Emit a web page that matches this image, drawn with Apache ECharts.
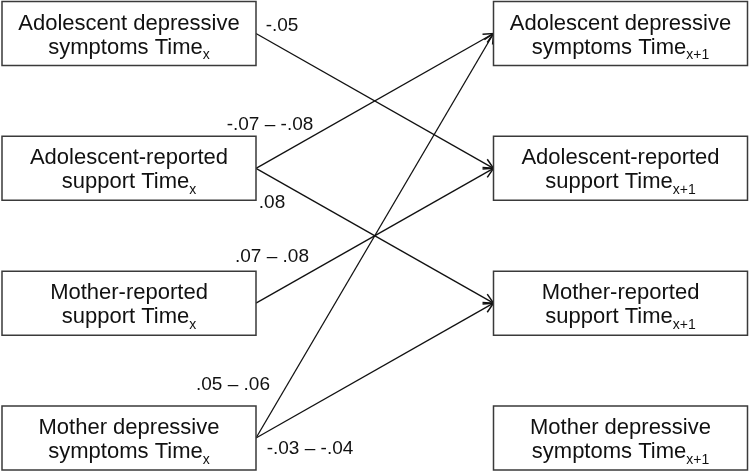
<!DOCTYPE html>
<html>
<head>
<meta charset="utf-8">
<script src="https://cdn.jsdelivr.net/npm/echarts@6/dist/echarts.min.js"></script>
<style>
  html, body { margin: 0; padding: 0; background: #fff; }
  #chart { width: 750px; height: 473px; }
</style>
</head>
<body>
<div id="chart"></div>
<script>
  // variables (same rows at Time x and Time x+1)
  const firstLines = ['Adolescent depressive', 'Adolescent-reported', 'Mother-reported', 'Mother depressive'];
  const secondLines = ['symptoms Time', 'support Time', 'support Time', 'symptoms Time'];
  const timeSubscripts = ['x', 'x+1'];

  // cross-lagged paths: row at Time x -> row at Time x+1
  const pathFrom = [0, 1, 1, 2, 3, 3];
  const pathTo = [1, 0, 2, 1, 0, 2];
  const pathLabels = ['-.05', '-.07 – -.08', '.08', '.07 – .08', '.05 – .06', '-.03 – -.04'];

  // layout
  const BOX_W = 254;
  const BOX_H = 64;
  const MAIN_FONT = '22px "Liberation Sans", Arial, sans-serif';
  const SUB_FONT = '14px "Liberation Sans", Arial, sans-serif';
  const LABEL_FONT = '19px "Liberation Sans", Arial, sans-serif';
  const labelOffsets = [[26, -8], [14, -44], [16, 34], [16, -46], [-23, -53], [54, 11]];

  const measureCtx = document.createElement('canvas').getContext('2d');
  const textWidth = (str, font) => {
    measureCtx.font = font;
    return measureCtx.measureText(str).width;
  };

  const boxData = [];
  [0, 1].forEach((col) => {
    firstLines.forEach((_, row) => boxData.push([col, row]));
  });
  const pathData = pathFrom.map((f, i) => [0, f, 1, pathTo[i]]);

  const renderBox = (params, api) => {
    const col = api.value(0);
    const row = api.value(1);
    const c = api.coord([col, row]);
    const main = secondLines[row];
    const sub = timeSubscripts[col];
    const wMain = textWidth(main, MAIN_FONT);
    const wSub = textWidth(sub, SUB_FONT);
    const start = c[0] - (wMain + wSub) / 2;
    return {
      type: 'group',
      children: [
        {
          type: 'rect',
          shape: { x: c[0] - BOX_W / 2, y: c[1] - BOX_H / 2, width: BOX_W, height: BOX_H },
          style: { fill: '#fff', stroke: '#3a3a3a', lineWidth: 1.5 },
        },
        {
          type: 'text', x: c[0], y: c[1] - 10,
          style: { text: firstLines[row], font: MAIN_FONT, fill: '#111', align: 'center', verticalAlign: 'middle' },
        },
        {
          type: 'text', x: start, y: c[1] + 14,
          style: { text: main, font: MAIN_FONT, fill: '#111', align: 'left', verticalAlign: 'middle' },
        },
        {
          type: 'text', x: start + wMain, y: c[1] + 22,
          style: { text: sub, font: SUB_FONT, fill: '#111', align: 'left', verticalAlign: 'middle' },
        },
      ],
    };
  };

  const renderPath = (params, api) => {
    const s = api.coord([api.value(0), api.value(1)]);
    const t = api.coord([api.value(2), api.value(3)]);
    const sx = s[0] + BOX_W / 2, sy = s[1];
    const tx = t[0] - BOX_W / 2, ty = t[1];
    const ang = Math.atan2(ty - sy, tx - sx);
    const L = 11, a = 0.45;
    const p1 = [tx - L * Math.cos(ang - a), ty - L * Math.sin(ang - a)];
    const p2 = [tx - L * Math.cos(ang + a), ty - L * Math.sin(ang + a)];
    const off = labelOffsets[params.dataIndex];
    return {
      type: 'group',
      children: [
        {
          type: 'line',
          shape: { x1: sx, y1: sy, x2: tx, y2: ty },
          style: { stroke: '#111', lineWidth: 1.3 },
        },
        {
          type: 'polyline',
          shape: { points: [p1, [tx, ty], p2] },
          style: { stroke: '#111', lineWidth: 1.5, fill: null },
        },
        {
          type: 'text', x: sx + off[0], y: sy + off[1],
          style: { text: pathLabels[params.dataIndex], font: LABEL_FONT, fill: '#111', align: 'center', verticalAlign: 'middle' },
        },
      ],
    };
  };

  const chart = echarts.init(document.getElementById('chart'));
  chart.setOption({
    animation: false,
    grid: { left: 129, right: 129.5, top: 33.5, bottom: 35 },
    xAxis: { type: 'value', min: 0, max: 1, show: false },
    yAxis: { type: 'value', min: 0, max: 3, inverse: true, show: false },
    series: [
      {
        type: 'custom',
        renderItem: renderPath,
        data: pathData,
        encode: { x: [0, 2], y: [1, 3] },
        silent: true,
      },
      {
        type: 'custom',
        renderItem: renderBox,
        data: boxData,
        silent: true,
      },
    ],
  });
</script>
</body>
</html>
